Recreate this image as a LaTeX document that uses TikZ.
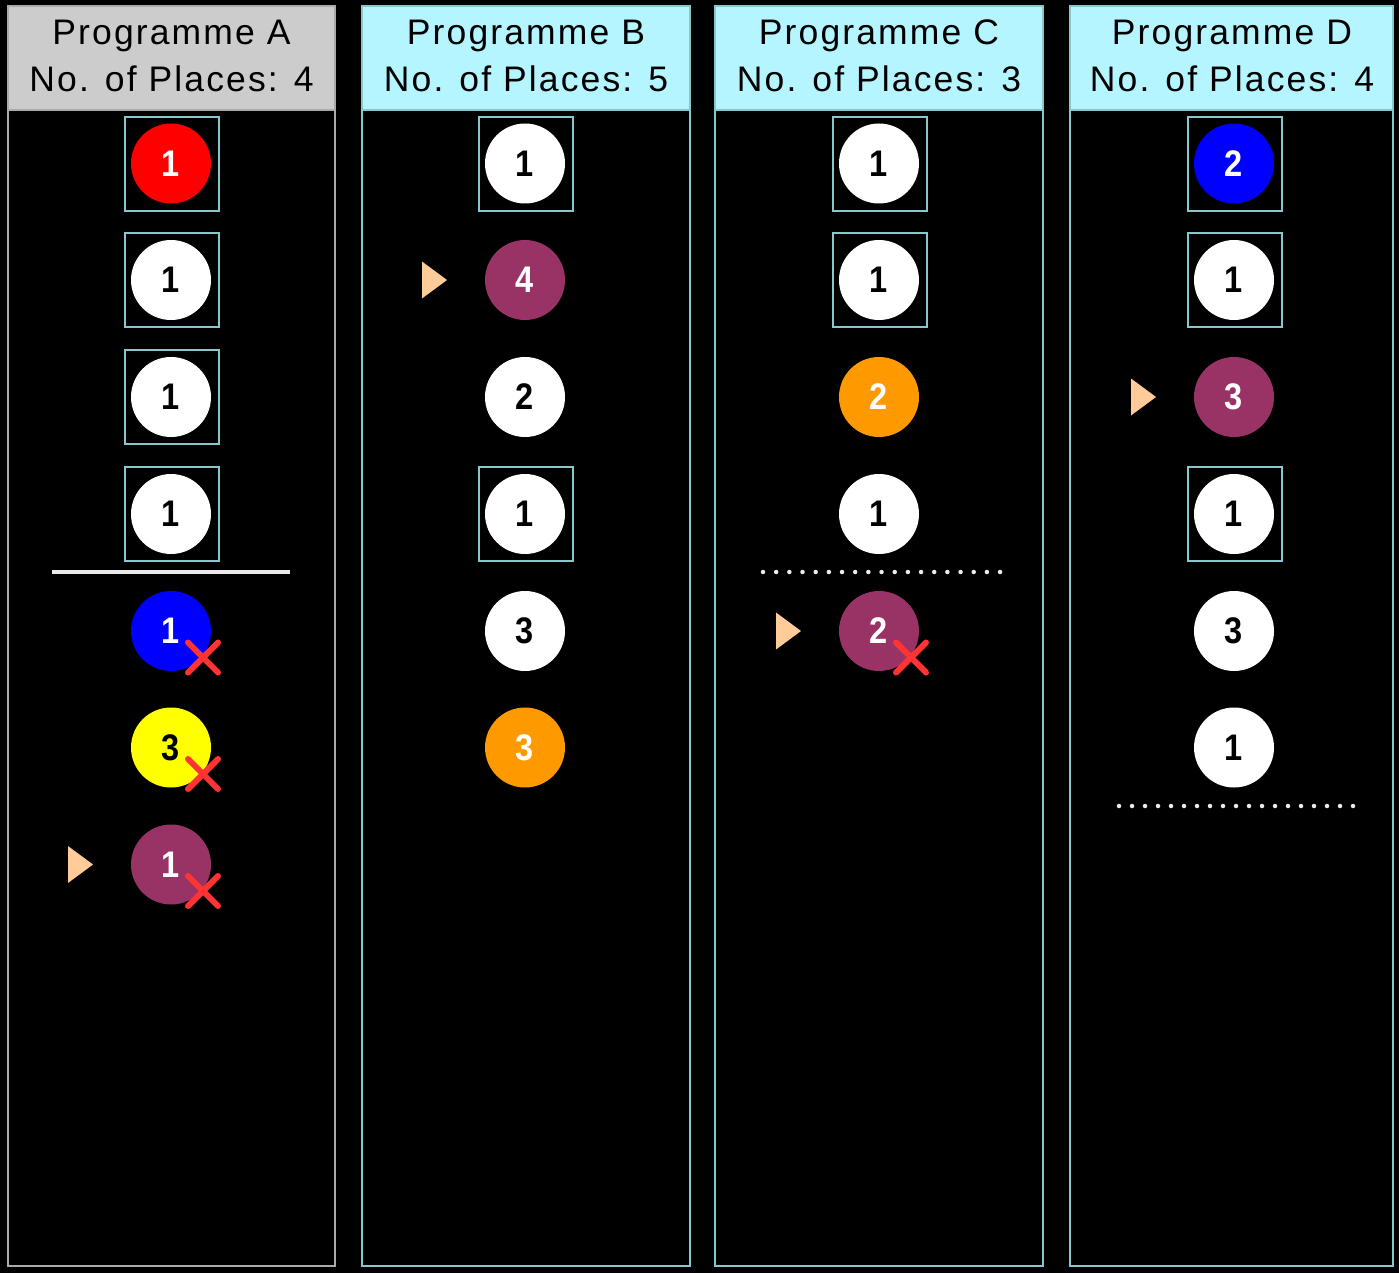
\documentclass[tikz,border=0pt]{standalone}
\usepackage{fontspec}
\usepackage{graphicx}
\newfontfamily\hdrfont[LetterSpace=6]{Liberation Sans}
\newfontfamily\digfont{Liberation Sans}
\definecolor{frameA}{RGB}{170,170,170}
\definecolor{frameC}{RGB}{136,200,204}
\definecolor{hdrA}{RGB}{204,204,204}
\definecolor{hdrC}{RGB}{180,245,255}
\definecolor{ballpurple}{RGB}{153,51,102}
\definecolor{ballorange}{RGB}{255,153,0}
\definecolor{ballblue}{RGB}{0,0,255}
\definecolor{ballred}{RGB}{255,0,0}
\definecolor{ballyellow}{RGB}{255,255,0}
\definecolor{xred}{RGB}{255,51,51}
\definecolor{peach}{RGB}{255,204,153}
\definecolor{sepgrey}{RGB}{235,235,235}
\newcommand\mkball[5]{\node[#4] (#1) at (#2,#3) {\scalebox{0.88}[1]{#5}};}
\newcommand\mkslot[3]{\node[slotbox] (#1) at (#2,#3) {};}
\newcommand\mkx[1]{%
  \draw[xmark] ([shift={(17pt,-11.5pt)}]#1.center) -- ([shift={(47pt,-41.5pt)}]#1.center);
  \draw[xmark] ([shift={(47pt,-11.5pt)}]#1.center) -- ([shift={(17pt,-41.5pt)}]#1.center);}
\newcommand\mkptr[1]{%
  \fill[peach] ([shift={(-103pt,18.5pt)}]#1.center) -- ([shift={(-78pt,0pt)}]#1.center) -- ([shift={(-103pt,-18.5pt)}]#1.center) -- cycle;}
\begin{document}
\begin{tikzpicture}[x=1pt,y=-1pt,
  colframe/.style={line width=2.5pt},
  hdrtext/.style={anchor=base, inner sep=0pt, text=black, font=\hdrfont\fontsize{35.5}{40}\selectfont},
  ball/.style={circle, minimum size=80pt, inner sep=0pt, font=\digfont\bfseries\fontsize{37}{40}\selectfont},
  wball/.style={ball, fill=white, text=black},
  rball/.style={ball, fill=ballred, text=white},
  bball/.style={ball, fill=ballblue, text=white},
  yball/.style={ball, fill=ballyellow, text=black},
  pball/.style={ball, fill=ballpurple, text=white},
  oball/.style={ball, fill=ballorange, text=white},
  slotbox/.style={draw=frameC, line width=2pt, minimum size=94pt, inner sep=0pt},
  xmark/.style={draw=xred, line width=6pt, line cap=round},
  solidsep/.style={draw=sepgrey, line width=4pt},
  dotsep/.style={draw=sepgrey, line width=4.5pt, line cap=round},
]
\useasboundingbox (0,0) rectangle (1399,1273);
\fill[black] (0,0) rectangle (1399,1273);

% column frames and headers
\fill[hdrA] (8,6) rectangle (335,110);
\draw[frameA, colframe] (8,6) rectangle (335,1266);
\draw[frameA, line width=2pt] (8,110) -- (335,110);
\foreach \l/\r in {362/690, 715/1043, 1070/1393}{
  \fill[hdrC] (\l,6) rectangle (\r,110);
  \draw[frameC, colframe] (\l,6) rectangle (\r,1266);
  \draw[frameC, line width=2pt] (\l,110) -- (\r,110);
}
\node[hdrtext] (hA1) at (171.5,45) {Programme A};
\node[hdrtext] (hA2) at (171.5,92) {No. of Places: 4};
\node[hdrtext] (hB1) at (526,45) {Programme B};
\node[hdrtext] (hB2) at (526,92) {No. of Places: 5};
\node[hdrtext] (hC1) at (879,45) {Programme C};
\node[hdrtext] (hC2) at (879,92) {No. of Places: 3};
\node[hdrtext] (hD1) at (1232,45) {Programme D};
\node[hdrtext] (hD2) at (1232,92) {No. of Places: 4};

% Programme A
\mkslot{sA1}{171.5}{164}
\mkslot{sA2}{171.5}{280}
\mkslot{sA3}{171.5}{397}
\mkslot{sA4}{171.5}{514}
\mkball{bA1}{171}{163.5}{rball}{1}
\mkball{bA2}{171}{280}{wball}{1}
\mkball{bA3}{171}{397}{wball}{1}
\mkball{bA4}{171}{514}{wball}{1}
\draw[solidsep] (52,572) -- (290,572);
\mkball{bA5}{171}{631}{bball}{1}
\mkball{bA6}{171}{747.5}{yball}{3}
\mkball{bA7}{171}{864.5}{pball}{1}
\mkx{bA5}
\mkx{bA6}
\mkx{bA7}
\mkptr{bA7}

% Programme B
\mkslot{sB1}{525.5}{164}
\mkslot{sB4}{525.5}{514}
\mkball{bB1}{525}{163.5}{wball}{1}
\mkball{bB2}{525}{280}{pball}{4}
\mkball{bB3}{525}{397}{wball}{2}
\mkball{bB4}{525}{514}{wball}{1}
\mkball{bB5}{525}{631}{wball}{3}
\mkball{bB6}{525}{747.5}{oball}{3}
\mkptr{bB2}

% Programme C
\mkslot{sC1}{879.5}{164}
\mkslot{sC2}{879.5}{280}
\mkball{bC1}{879}{163.5}{wball}{1}
\mkball{bC2}{879}{280}{wball}{1}
\mkball{bC3}{879}{397}{oball}{2}
\mkball{bC4}{879}{514}{wball}{1}
\draw[dotsep, dash pattern=on 0pt off 13.17pt] (763,572) -- (1000.5,572);
\mkball{bC5}{879}{631}{pball}{2}
\mkx{bC5}
\mkptr{bC5}

% Programme D
\mkslot{sD1}{1235}{164.5}
\mkslot{sD2}{1235}{280}
\mkslot{sD4}{1235}{514}
\mkball{bD1}{1234}{163.5}{bball}{2}
\mkball{bD2}{1234}{280}{wball}{1}
\mkball{bD3}{1234}{397}{pball}{3}
\mkball{bD4}{1234}{514}{wball}{1}
\mkball{bD5}{1234}{631}{wball}{3}
\mkball{bD6}{1234}{747.5}{wball}{1}
\draw[dotsep, dash pattern=on 0pt off 13pt] (1119,806) -- (1353.5,806);
\mkptr{bD3}
\end{tikzpicture}
\end{document}
